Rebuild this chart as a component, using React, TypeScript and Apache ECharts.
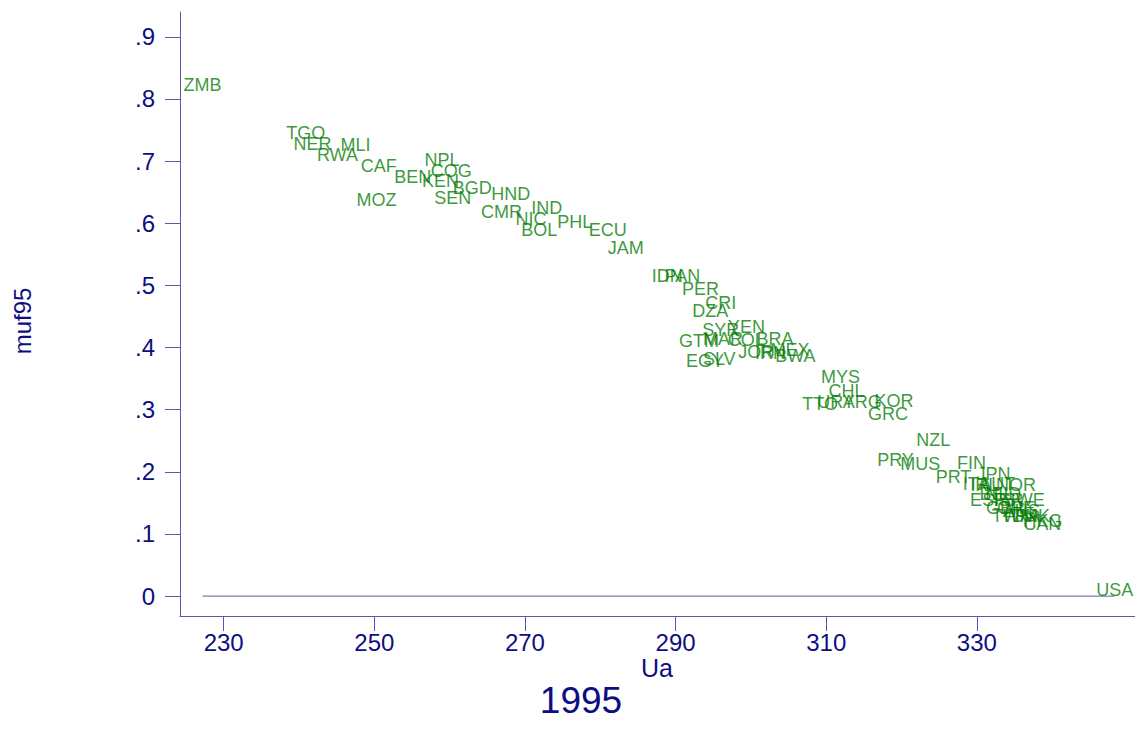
import React, { useEffect, useRef } from "react";
import * as echarts from "echarts";

const countries = [
  "ZMB", "TGO", "NER", "MLI", "RWA", "CAF", "MOZ", "NPL", "COG", "BEN",
  "KEN", "BGD", "SEN", "HND", "CMR", "IND", "NIC", "BOL", "PHL", "ECU",
  "JAM", "IDN", "PAN", "PER", "CRI", "DZA", "SYR", "YEN", "GTM", "MAR",
  "COL", "BRA", "JOR", "IRN", "MEX", "BWA", "EGY", "SLV", "MYS", "CHL",
  "TTO", "URY", "ARG", "KOR", "GRC", "NZL", "PRY", "MUS", "PRT", "FIN",
  "JPN", "ITA", "IRL", "AUT", "NOR", "BEL", "NLD", "ESP", "ISR", "SWE",
  "GBR", "CHE", "AUS", "TWN", "FRA", "DNK", "HKG", "CAN", "USA",
];
const ua = [
  227.2, 240.9, 241.8, 247.5, 245.1, 250.6, 250.3, 259.0, 260.2, 255.1,
  258.8, 263.0, 260.4, 268.1, 266.9, 272.9, 270.8, 271.9, 276.6, 281.0,
  283.4, 288.9, 290.9, 293.3, 296.0, 294.6, 296.0, 299.4, 293.1, 296.3,
  299.4, 303.2, 300.7, 302.6, 305.2, 305.9, 293.9, 295.8, 311.9, 312.7,
  309.2, 311.3, 314.8, 319.0, 318.2, 324.2, 319.2, 322.5, 326.9, 329.3,
  332.2, 329.9, 331.0, 332.7, 335.2, 332.6, 333.5, 331.5, 334.2, 336.3,
  333.8, 335.2, 335.9, 334.7, 336.0, 337.2, 338.8, 338.7, 348.3,
];
const muf95 = [
  0.823, 0.746, 0.728, 0.726, 0.710, 0.692, 0.638, 0.702, 0.684, 0.675,
  0.668, 0.657, 0.641, 0.647, 0.618, 0.625, 0.607, 0.589, 0.602, 0.589,
  0.560, 0.515, 0.515, 0.494, 0.472, 0.459, 0.428, 0.433, 0.411, 0.414,
  0.412, 0.414, 0.393, 0.391, 0.396, 0.386, 0.378, 0.382, 0.353, 0.330,
  0.309, 0.312, 0.312, 0.314, 0.293, 0.251, 0.219, 0.213, 0.192, 0.214,
  0.196, 0.180, 0.179, 0.180, 0.179, 0.164, 0.164, 0.155, 0.155, 0.155,
  0.142, 0.142, 0.137, 0.129, 0.129, 0.129, 0.121, 0.116, 0.010,
];
const zeroLineX = [227.2, 348.3];
const zeroLineY = [0, 0];
const xTicks = [230, 250, 270, 290, 310, 330];
const yTicks = [0, 0.1, 0.2, 0.3, 0.4, 0.5, 0.6, 0.7, 0.8, 0.9];

const NAVY = "#0e0e82";
const AXIS = "#5a5ab0";
const GREEN = "#067e06";
const FONT = "'Liberation Sans', Arial, sans-serif";

export default function App() {
  const ref = useRef<HTMLDivElement>(null);
  useEffect(() => {
    if (!ref.current) return;
    const chart = echarts.init(ref.current, null, { renderer: "svg" });
    const scatterData = countries.map((c, i) => [ua[i], muf95[i], c]);
    const lineData = zeroLineX.map((x, i) => [x, zeroLineY[i]]);
    chart.setOption({
      animation: false,
      backgroundColor: "#ffffff",
      textStyle: { fontFamily: FONT },
      grid: { left: 180, right: 0, top: 12, bottom: 113, containLabel: false },
      xAxis: {
        type: "value",
        min: 224.2,
        max: 351,
        axisLine: { show: true, onZero: false, lineStyle: { color: AXIS, width: 1 } },
        axisTick: { show: true, length: 15, customValues: xTicks, lineStyle: { color: AXIS } },
        axisLabel: {
          customValues: xTicks,
          color: NAVY,
          fontSize: 24,
          margin: 14,
          fontFamily: FONT,
        },
        splitLine: { show: false },
      },
      yAxis: {
        type: "value",
        min: -0.032,
        max: 0.94,
        axisLine: { show: true, onZero: false, lineStyle: { color: AXIS, width: 1 } },
        axisTick: { show: true, length: 15, customValues: yTicks, lineStyle: { color: AXIS } },
        axisLabel: {
          customValues: yTicks,
          color: NAVY,
          fontSize: 24,
          margin: 25,
          fontFamily: FONT,
          formatter: (v: number) =>
            Math.abs(v) < 1e-9 ? "0" : (Math.round(v * 10) / 10).toString().replace(/^0/, ""),
        },
        splitLine: { show: false },
      },
      series: [
        {
          type: "line",
          data: lineData,
          symbol: "none",
          lineStyle: { color: AXIS, width: 1 },
          silent: true,
        },
        {
          type: "scatter",
          data: scatterData,
          symbol: "circle",
          symbolSize: 0.1,
          itemStyle: { color: "rgba(0,0,0,0)" },
          label: {
            show: true,
            position: "inside",
            formatter: (p: any) => p.data[2],
            color: GREEN,
            fontSize: 18,
            fontFamily: FONT,
          },
          labelLayout: { hideOverlap: false },
        },
      ],
      graphic: [
        {
          type: "text",
          x: 22,
          y: 321,
          rotation: Math.PI / 2,
          style: { text: "muf95", fill: NAVY, font: `24px ${FONT}`, align: "center", verticalAlign: "middle" },
        },
        {
          type: "text",
          x: 657,
          y: 668,
          style: { text: "Ua", fill: NAVY, font: `25px ${FONT}`, align: "center", verticalAlign: "middle" },
        },
        {
          type: "text",
          x: 581,
          y: 700,
          style: { text: "1995", fill: NAVY, font: `37px ${FONT}`, align: "center", verticalAlign: "middle" },
        },
      ],
    });
    return () => chart.dispose();
  }, []);
  return (
    <div
      ref={ref}
      style={{ position: "fixed", left: 0, top: 0, width: 1135, height: 729, background: "#fff" }}
    />
  );
}
